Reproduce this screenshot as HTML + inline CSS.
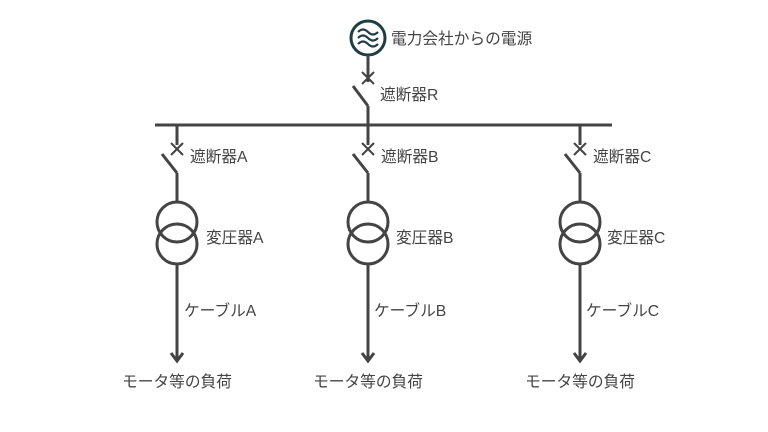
<!DOCTYPE html>
<html><head><meta charset="utf-8"><style>
html,body{margin:0;padding:0;background:#fff;}
svg{display:block}
text{font-family:"Liberation Sans","Noto Sans CJK JP",sans-serif;font-size:15.7px;fill:#444;}
</style></head><body>
<svg width="768" height="432" viewBox="0 0 768 432" xmlns="http://www.w3.org/2000/svg">
<defs>
<g id="br" stroke="#444" stroke-width="3" fill="none">
<line x1="0" y1="0" x2="0" y2="20"/>
<g stroke-width="2"><line x1="-6" y1="18" x2="6" y2="30"/><line x1="6" y1="18" x2="-6" y2="30"/></g>
<line x1="-15" y1="29" x2="0" y2="48"/>
<line x1="0" y1="48" x2="0" y2="78"/>
<circle cx="0" cy="97" r="20"/>
<circle cx="0" cy="119" r="20"/>
<line x1="0" y1="139" x2="0" y2="235"/>
<polyline points="-6,228 0,236 6,228" stroke-linejoin="miter"/>
</g>
</defs>
<line x1="155" y1="125" x2="612" y2="125" stroke="#444" stroke-width="3"/>
<circle cx="368" cy="38" r="17" fill="none" stroke="#1f3d43" stroke-width="3"/>
<g stroke="#1f3d43" stroke-width="2.2" fill="none">
<path d="M358,32 q5,-5 10,0 t10,0"/>
<path d="M358,38 q5,-5 10,0 t10,0"/>
<path d="M358,44 q5,-5 10,0 t10,0"/>
</g>
<g stroke="#444" stroke-width="3" fill="none">
<line x1="368" y1="55" x2="368" y2="82"/>
<g stroke-width="2"><line x1="362" y1="72" x2="374" y2="84"/><line x1="374" y1="72" x2="362" y2="84"/></g>
<line x1="353" y1="86" x2="368" y2="106"/>
<line x1="368" y1="106" x2="368" y2="125"/>
</g>
<text x="391" y="44">電力会社からの電源</text>
<text x="380" y="100">遮断器R</text>
<use href="#br" x="177" y="125"/>
<use href="#br" x="368" y="125"/>
<use href="#br" x="580" y="125"/>
<text x="190" y="162">遮断器A</text>
<text x="381" y="162">遮断器B</text>
<text x="593" y="162">遮断器C</text>
<text x="206" y="243">変圧器A</text>
<text x="396" y="243">変圧器B</text>
<text x="607" y="243">変圧器C</text>
<text x="184" y="316">ケーブルA</text>
<text x="374" y="316">ケーブルB</text>
<text x="586" y="316">ケーブルC</text>
<text x="177" y="387" text-anchor="middle">モータ等の負荷</text>
<text x="368" y="387" text-anchor="middle">モータ等の負荷</text>
<text x="580" y="387" text-anchor="middle">モータ等の負荷</text>
</svg>
</body></html>
